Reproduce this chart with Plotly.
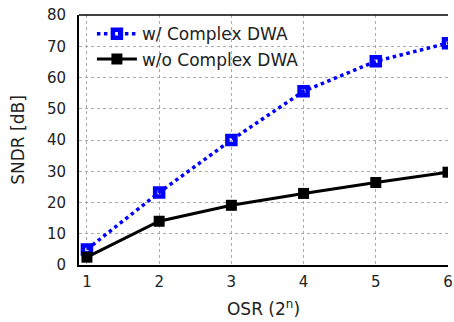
import plotly.graph_objects as go

osr = [1, 2, 3, 4, 5, 6]
with_dwa = [5.0, 23.2, 40.0, 55.6, 65.2, 71.0]
without_dwa = [2.5, 14.0, 19.1, 22.9, 26.4, 29.7]
x_ticks = [1, 2, 3, 4, 5, 6]
y_ticks = [0, 10, 20, 30, 40, 50, 60, 70, 80]

font_family = "DejaVu Sans"

fig = go.Figure()
fig.add_trace(go.Scatter(
    x=osr, y=with_dwa, mode="lines+markers", name="w/ Complex DWA",
    line=dict(color="#0000ff", width=3.5, dash="dot"),
    marker=dict(symbol="square-open", size=8, color="#0000ff", line=dict(width=4.5, color="#0000ff")),
))
fig.add_trace(go.Scatter(
    x=osr, y=without_dwa, mode="lines+markers", name="w/o Complex DWA",
    line=dict(color="#000000", width=3),
    marker=dict(symbol="square", size=11, color="#000000"),
))

fig.update_layout(
    width=454, height=322,
    margin=dict(l=79, r=6, t=15, b=57),
    paper_bgcolor="white", plot_bgcolor="white",
    font=dict(family=font_family, size=15, color="#222"),
    showlegend=True,
    legend=dict(x=0.035, y=0.995, xanchor="left", yanchor="top",
                bgcolor="rgba(255,255,255,0)", borderwidth=0,
                font=dict(size=17), itemwidth=40, tracegroupgap=0),
    xaxis=dict(range=[0.89, 6.0], tickvals=x_ticks, showgrid=True,
               gridcolor="#aaa", griddash="dot", gridwidth=1,
               showline=True, linecolor="black", linewidth=2, mirror=False,
               ticks="", automargin=False, ticklabelstandoff=2,
               title=dict(text="OSR (2<sup>n</sup>)", font=dict(size=17), standoff=13),
               zeroline=False),
    yaxis=dict(range=[0, 80], tickvals=y_ticks, showgrid=True,
               gridcolor="#aaa", griddash="dot", gridwidth=1,
               showline=True, linecolor="black", linewidth=2,
               ticks="", automargin=False, ticklabelstandoff=8,
               title=dict(text="SNDR [dB]", font=dict(size=17), standoff=18),
               zeroline=False),
)
fig.add_shape(type="line", xref="paper", yref="paper", x0=0, x1=1, y0=1, y1=1,
              line=dict(color="black", width=1.5))

fig.write_html("out.html", config={"displayModeBar": False},
               post_script="document.body.style.margin='0';document.body.style.padding='0';")
